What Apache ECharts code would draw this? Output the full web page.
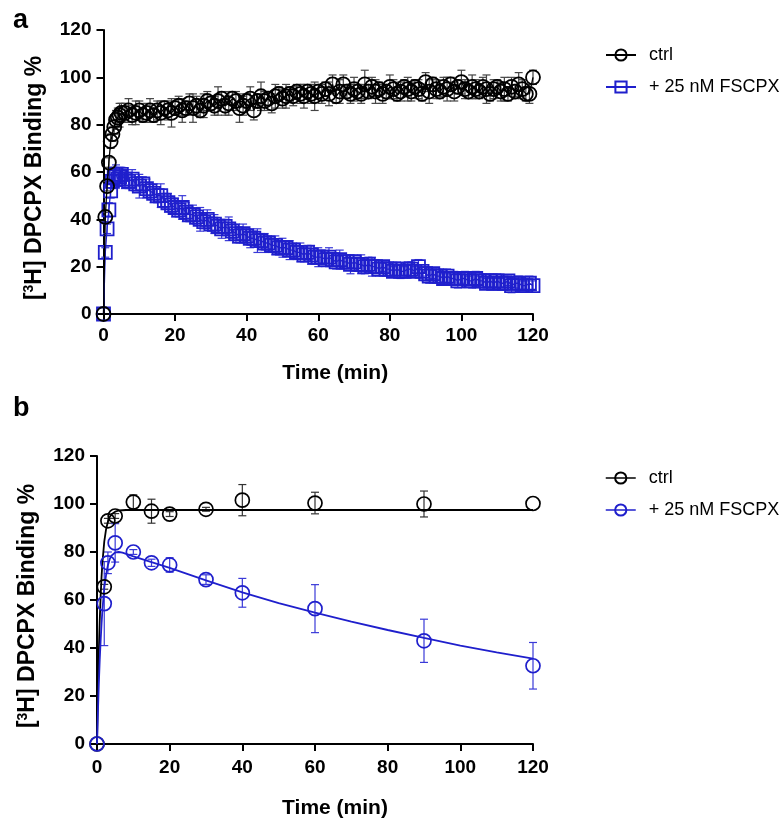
<!DOCTYPE html>
<html><head><meta charset="utf-8">
<script src="https://cdn.jsdelivr.net/npm/echarts@6/dist/echarts.min.js"></script>
<style>html,body{margin:0;padding:0;background:#fff}#c{width:780px;height:820px}</style>
</head><body><div id="c"></div>
<script>
// ---------- Panel a data ----------
var timeA = [0,0.5,1,1.5,2,2.5,3,3.5,4,4.5,5,
6,7,8,9,10,11,12,13,14,15,16,17,18,19,20,21,22,23,24,25,26,27,28,29,30,
31,32,33,34,35,36,37,38,39,40,41,42,43,44,45,46,47,48,49,50,
51,52,53,54,55,56,57,58,59,60,61,62,63,64,65,66,67,68,69,70,
71,72,73,74,75,76,77,78,79,80,81,82,83,84,85,86,87,88,89,90,
91,92,93,94,95,96,97,98,99,100,101,102,103,104,105,106,107,108,109,110,
111,112,113,114,115,116,117,118,119,120];
var ctrlA = [0,41,54,64,73,76,79,82,83,84,85,
85,86,84,85,86,84,85,86,84,86,85,87,86,85,87,88,86,87,89,87,88,86,88,90,89,
88,90,91,88,89,91,90,87,88,90,91,86,90,92,90,91,89,92,93,91,
92,93,92,94,93,92,94,93,92,94,93,95,93,97,92,94,97,94,93,95,
94,93,97,94,96,94,95,93,94,96,95,93,94,96,95,94,96,95,93,98,
94,97,95,94,96,95,97,94,96,98,95,94,96,95,94,96,95,93,95,96,
94,95,93,96,94,97,95,93,93,100];
var ctrlAErr = [0,2,2,2,3,3,3,4,4,5,4,
4,5,4,5,4,3,4,5,3,4,5,3,4,6,3,4,5,3,4,6,4,3,5,4,3,
4,6,3,4,5,3,4,6,4,3,5,4,3,6,4,3,4,5,3,4,
5,3,4,3,4,5,3,4,6,3,4,3,5,4,3,5,4,3,4,5,
3,4,6,3,4,5,3,4,3,5,4,3,4,3,5,4,3,4,3,4,
5,3,4,3,4,5,3,4,3,5,4,3,5,4,3,4,6,3,4,3,
4,5,3,4,3,5,4,3,4,3];
var fscpxA = [0,26,36,44,52,56,58,59,57,58,59,
57,56,57,55,54,55,53,52,51,50,50,48,47,46,45,44,45,43,42,42,41,40,39,40,38,
38,37,36,37,36,35,34,33,34,33,32,32,31,31,30,30,29,29,28,28,
28,27,27,26,26,25,26,25,24,24,24,23,24,23,22,23,22,22,21,22,
21,21,20,21,20,20,19,20,19,19,18,19,18,18,19,19,18,20,18,17,
16,17,16,16,15,16,15,15,14,15,15,14,14,15,14,14,13,14,13,14,
13,13,14,12,13,13,12,12,13,12];
var fscpxAErr = [0,2,2,3,3,3,4,4,3,4,3,
4,3,4,3,5,3,4,3,4,3,5,3,4,3,4,3,5,4,3,4,3,5,3,4,3,
4,3,4,3,5,3,4,3,4,3,4,3,5,3,4,3,3,4,3,4,
3,4,3,3,4,3,3,4,3,4,3,3,4,3,3,4,3,3,4,3,
3,4,3,3,4,3,3,2,3,3,2,3,3,2,3,3,2,3,2,3,
3,2,3,3,2,3,2,3,3,2,3,2,3,3,2,3,2,3,2,3,
2,3,2,3,2,3,2,2,3,2];

// ---------- Panel b data ----------
var timeB = [0,2,3,5,10,15,20,30,40,60,90,120];
var ctrlB = [0,65.5,93,95,100.8,97,95.8,97.8,101.6,100.4,100,100.2];
var ctrlBErr = [0,1,1,1,3,5,1,0.8,6.5,4.5,5.4,0];
var fscpxB = [0,58.5,75.5,83.8,80,75.5,74.6,68.5,63,56.4,43,32.6];
var fscpxBErr = [0,17.5,4.5,8,1,1.5,3,2,6,10,9,9.7];
// fitted curves
var fitTimeCtrl = [0,0.25,0.5,0.75,1,1.25,1.5,2,2.5,3,3.5,4,5,6,7,8,10,120];
var fitCtrl = [0,21.6,38.4,51.4,61.6,69.6,75.7,84.3,89.5,92.6,94.6,95.7,96.8,97.3,97.4,97.5,97.5,97.5];
var fitTimeFscpx = [0,0.25,0.5,0.75,1,1.25,1.5,2,2.5,3,3.5,4,5,6,7,8,10,15,20,25,30,40,50,60,70,80,90,100,110,120];
var fitFscpx = [0,13,25,35,43,50,56,65,70.5,74.5,77,78.5,79.8,80,79.7,79.2,78.2,75.8,73.4,70.8,68.2,63.2,58.7,54.7,51,47.5,44.2,41,38.2,35.6];

var xTicks = [0,20,40,60,80,100,120];

var BLUE = '#1f1fcc';
var FONT = 'Liberation Sans, Arial, Helvetica, sans-serif';
var NONE = 'rgba(255,255,255,0)';

function zip(xs, ys){ return xs.map(function(x,i){ return [x, ys[i]]; }); }
function zip3(xs, ys, es){ return xs.map(function(x,i){ return [x, ys[i], es[i]]; }); }

function errSeries(xs, ys, es, color, idx){
  return {
    type:'custom', xAxisIndex: idx, yAxisIndex: idx, silent:true, z: 2,
    renderItem: function(params, api){
      var x = api.value(0), y = api.value(1), e = api.value(2);
      if (!e) return null;
      var top = api.coord([x, y + e]), bot = api.coord([x, y - e]);
      var w = 4;
      var st = {stroke: color, lineWidth: 1.2};
      return {type:'group', children:[
        {type:'line', shape:{x1:top[0], y1:top[1], x2:bot[0], y2:bot[1]}, style: st},
        {type:'line', shape:{x1:top[0]-w, y1:top[1], x2:top[0]+w, y2:top[1]}, style: st},
        {type:'line', shape:{x1:bot[0]-w, y1:bot[1], x2:bot[0]+w, y2:bot[1]}, style: st}
      ]};
    },
    data: zip3(xs, ys, es)
  };
}

function xAxisCfg(idx, pad, gap, margin){
  return {
    type:'value', gridIndex: idx, min:0, max:120, interval:20,
    name:'Time (min)', nameLocation:'middle', nameGap:gap,
    nameTextStyle:{fontFamily:FONT, fontWeight:'bold', fontSize:21, color:'#000', padding:[0,0,0,pad]},
    axisLine:{lineStyle:{color:'#000', width:2}},
    axisTick:{show:true, inside:false, length:7, lineStyle:{color:'#000', width:2}},
    axisLabel:{fontFamily:FONT, fontWeight:'bold', fontSize:19, color:'#000', margin:margin,
      customValues: xTicks},
    splitLine:{show:false}
  };
}
function yAxisCfg(idx){
  return {
    type:'value', gridIndex: idx, min:0, max:120, interval:20,
    name:'[{sup|3}H] DPCPX Binding %', nameLocation:'middle', nameGap:57, nameRotate:90,
    nameTextStyle:{fontFamily:FONT, fontWeight:'bold', fontSize:23, color:'#000', padding:[0,12,0,0],
      rich:{sup:{fontFamily:FONT, fontWeight:'bold', fontSize:14, color:'#000', padding:[0,0,10,0]}}},
    axisLine:{lineStyle:{color:'#000', width:2}},
    axisTick:{show:true, inside:false, length:7, lineStyle:{color:'#000', width:2}},
    axisLabel:{fontFamily:FONT, fontWeight:'bold', fontSize:19, color:'#000', margin:12},
    splitLine:{show:false}
  };
}

var option = {
  animation:false,
  backgroundColor:'#fff',
  title:[
    {text:'a', left:8, top:2, textStyle:{fontFamily:FONT, fontWeight:'bold', fontSize:27, color:'#000'}},
    {text:'b', left:8, top:390, textStyle:{fontFamily:FONT, fontWeight:'bold', fontSize:27, color:'#000'}}
  ],
  grid:[
    {left:103.5, top:30, width:429.5, height:284},
    {left:97, top:456, width:436, height:289}
  ],
  xAxis:[xAxisCfg(0,34,49,12), xAxisCfg(1,40,54,14)],
  yAxis:[yAxisCfg(0), yAxisCfg(1)],
  legend:[
    {left:600, top:41, orient:'vertical', itemWidth:30, itemHeight:14, itemGap:14,
      data:['ctrl','+ 25 nM FSCPX'],
      textStyle:{fontFamily:FONT, fontSize:18, color:'#000', padding:[0,0,0,8]}},
    {left:600, top:464, orient:'vertical', itemWidth:30, itemHeight:14, itemGap:14,
      data:['ctrl ','+ 25 nM FSCPX '],
      formatter:function(n){ return n.trim(); },
      lineStyle:{width:1.5, opacity:1},
      textStyle:{fontFamily:FONT, fontSize:18, color:'#000', padding:[0,0,0,8]}}
  ],
  series:[
    errSeries(timeA, ctrlA, ctrlAErr, '#444', 0),
    errSeries(timeA, fscpxA, fscpxAErr, '#3a3ad8', 0),
    {name:'ctrl', type:'line', xAxisIndex:0, yAxisIndex:0, data: zip(timeA, ctrlA),
      symbol:'circle', symbolSize:14, z:4, clip:false,
      lineStyle:{color:'#000', width:1.3},
      itemStyle:{color:NONE, borderColor:'#000', borderWidth:1.8, opacity:1}},
    {name:'+ 25 nM FSCPX', type:'line', xAxisIndex:0, yAxisIndex:0, data: zip(timeA, fscpxA),
      symbol:'rect', symbolSize:13, z:3, clip:false,
      lineStyle:{color:BLUE, width:1.3},
      itemStyle:{color:NONE, borderColor:BLUE, borderWidth:1.8}},
    errSeries(timeB, ctrlB, ctrlBErr, '#333', 1),
    errSeries(timeB, fscpxB, fscpxBErr, '#3a3ad8', 1),
    {type:'line', xAxisIndex:1, yAxisIndex:1, data: zip(fitTimeCtrl, fitCtrl),
      showSymbol:false, symbol:'none', z:3, lineStyle:{color:'#000', width:1.8}},
    {type:'line', xAxisIndex:1, yAxisIndex:1, data: zip(fitTimeFscpx, fitFscpx),
      showSymbol:false, symbol:'none', z:3, lineStyle:{color:BLUE, width:1.8}},
    {name:'ctrl ', type:'line', xAxisIndex:1, yAxisIndex:1, data: zip(timeB, ctrlB),
      symbol:'circle', symbolSize:14, z:5, clip:false,
      lineStyle:{color:'#000', width:0, opacity:0},
      itemStyle:{color:NONE, borderColor:'#000', borderWidth:1.7}},
    {name:'+ 25 nM FSCPX ', type:'line', xAxisIndex:1, yAxisIndex:1, data: zip(timeB, fscpxB),
      symbol:'circle', symbolSize:14, z:5, clip:false,
      lineStyle:{color:BLUE, width:0, opacity:0},
      itemStyle:{color:NONE, borderColor:BLUE, borderWidth:1.7}}
  ]
};
var chart = echarts.init(document.getElementById('c'), null, {renderer:'canvas'});
chart.setOption(option);
</script></body></html>
